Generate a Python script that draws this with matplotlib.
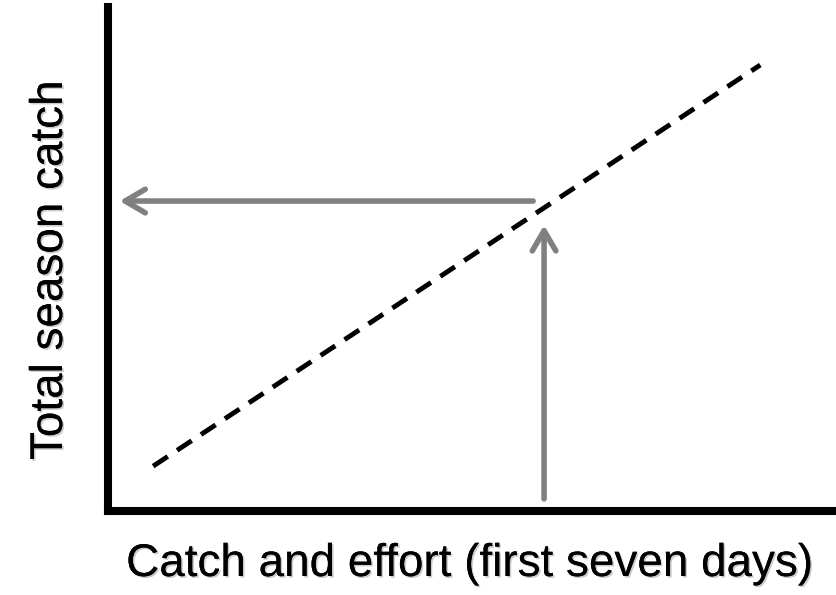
import matplotlib
matplotlib.use('Agg')
import matplotlib.pyplot as plt
import matplotlib.patheffects as pe
from matplotlib import font_manager

# schematic values (axis units 0-10)
trend_x = [0.62, 8.96]
trend_y = [0.89, 8.85]
# horizontal arrow: from the line back to the y axis
h_arrow_x = [5.84, 0.16]
h_arrow_y = [6.15, 6.15]
# vertical arrow: from the x axis up to the line
v_arrow_x = [5.99, 5.99]
v_arrow_y = [0.24, 5.67]

x_label = 'Catch and effort (first seven days)'
y_label = 'Total season catch'

names = {f.name for f in font_manager.fontManager.ttflist}
font = 'Liberation Sans Narrow' if 'Liberation Sans Narrow' in names else 'Liberation Sans'
size = 35 if font == 'Liberation Sans Narrow' else 33

fig = plt.figure(figsize=(8.36, 5.95), dpi=100)
ax = fig.add_axes([108 / 836, 84 / 595, 728 / 836, 504 / 595])
ax.set_xlim(0, 10)
ax.set_ylim(0, 10)

for side in ['top', 'right']:
    ax.spines[side].set_visible(False)
for side in ['left', 'bottom']:
    ax.spines[side].set_linewidth(5.8)
    ax.spines[side].set_capstyle('projecting')
ax.set_xticks([])
ax.set_yticks([])

# dashed regression line
ax.plot(trend_x, trend_y, color='black', lw=3.5, dashes=(3.6, 2.3))

arrow = dict(arrowstyle='->,head_length=1.45,head_width=0.85', lw=4,
             color='#808080', shrinkA=0, shrinkB=0, capstyle='round',
             joinstyle='round')
ax.annotate('', xy=(h_arrow_x[1], h_arrow_y[1]), xytext=(h_arrow_x[0], h_arrow_y[0]),
            arrowprops=arrow)
ax.annotate('', xy=(v_arrow_x[1], v_arrow_y[1]), xytext=(v_arrow_x[0], v_arrow_y[0]),
            arrowprops=arrow)

shadow = [pe.withSimplePatchShadow(offset=(1.2, -1.2), shadow_rgbFace='#999999', alpha=0.5),
          pe.Normal()]
fig.text(470 / 836, 1 - 564 / 595, x_label, fontsize=size, family=font,
         ha='center', va='center', path_effects=shadow)
fig.text(50 / 836, 1 - 270 / 595, y_label, fontsize=size, family=font,
         rotation=90, ha='center', va='center', path_effects=shadow)

fig.savefig('out.png', dpi=100)
